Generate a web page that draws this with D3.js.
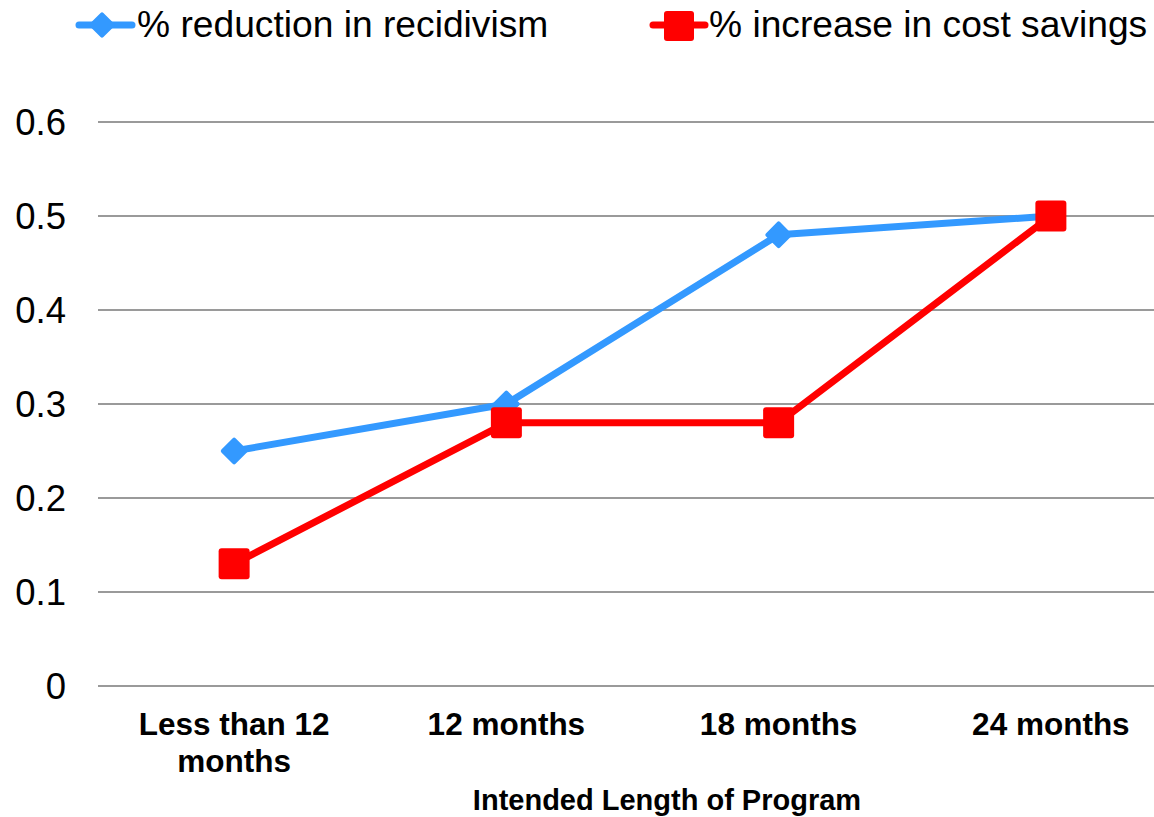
<!DOCTYPE html>
<html><head><meta charset="utf-8">
<script src="https://cdn.jsdelivr.net/npm/d3@7"></script>
<style>html,body{margin:0;padding:0;background:#fff;}svg{display:block;font-family:"Liberation Sans",Arial,sans-serif;}</style>
</head><body>
<svg id="c" width="1154" height="817"></svg>
<script>
const categories = [["Less than 12","months"],["12 months"],["18 months"],["24 months"]];
const recidivism = [0.25, 0.30, 0.48, 0.50];
const costSavings = [0.13, 0.28, 0.28, 0.50];
const yTicks = [0, 0.1, 0.2, 0.3, 0.4, 0.5, 0.6];
const seriesNames = ["% reduction in recidivism", "% increase in cost savings"];

const svg = d3.select("#c");
const x = d3.scaleBand().domain(d3.range(categories.length)).range([98, 1187]);
const y = d3.scaleLinear().domain([0, 0.6]).range([686, 122]);

// gridlines
svg.append("g").selectAll("line").data(yTicks).join("line")
  .attr("x1", 98).attr("x2", 1154)
  .attr("y1", d => y(d)).attr("y2", d => y(d))
  .attr("stroke", "#9a9a9a").attr("stroke-width", 2);

// y labels
const yAxis = d3.axisLeft(y).tickValues(yTicks).tickSize(0).tickPadding(0).tickFormat(d => d3.format("")(+d.toFixed(1)));
const ya = svg.append("g").attr("transform", "translate(66,0)").call(yAxis);
ya.select(".domain").remove();
ya.selectAll("text").attr("font-size", 36.5).attr("fill", "#000").attr("font-family", "Liberation Sans, Arial, sans-serif").attr("dy", "0.35em");

// x labels
const xl = svg.append("g");
categories.forEach((lines, i) => {
  const t = xl.append("text").attr("text-anchor", "middle").attr("font-weight", "bold").attr("font-size", 31.5).attr("fill", "#000");
  lines.forEach((ln, j) => t.append("tspan").attr("x", x(i) + x.bandwidth()/2).attr("y", 735 + j*37).text(ln));
});
svg.append("text").attr("x", 667).attr("y", 810).attr("text-anchor", "middle").attr("font-weight", "bold").attr("font-size", 29).text("Intended Length of Program");

const cx = i => x(i) + x.bandwidth()/2;
const line = d3.line().x((d, i) => cx(i)).y(d => y(d));
const blue = "#3399FF", red = "#FF0000";

svg.append("path").datum(recidivism).attr("d", line).attr("fill", "none").attr("stroke", blue).attr("stroke-width", 7).attr("stroke-linejoin", "round");
svg.append("path").datum(costSavings).attr("d", line).attr("fill", "none").attr("stroke", red).attr("stroke-width", 7).attr("stroke-linejoin", "round");

function diamond(g, cxp, cyp, s) {
  g.append("rect").attr("x", cxp - s/2).attr("y", cyp - s/2).attr("width", s).attr("height", s).attr("rx", 2)
    .attr("transform", `rotate(45,${cxp},${cyp})`).attr("fill", blue);
}
function square(g, cxp, cyp, s) {
  g.append("rect").attr("x", cxp - s/2).attr("y", cyp - s/2).attr("width", s).attr("height", s).attr("rx", 3).attr("fill", red);
}
const mk = svg.append("g");
recidivism.forEach((d, i) => diamond(mk, cx(i), y(d), 20));
costSavings.forEach((d, i) => square(mk, cx(i), y(d), 31));

// legend
const lg = svg.append("g");
lg.append("line").attr("x1", 79).attr("x2", 132).attr("y1", 25).attr("y2", 25).attr("stroke", blue).attr("stroke-width", 7).attr("stroke-linecap", "round");
diamond(lg, 102, 25, 19);
lg.append("text").attr("x", 137).attr("y", 37).attr("font-size", 37.2).text(seriesNames[0]);
lg.append("line").attr("x1", 653).attr("x2", 705).attr("y1", 25).attr("y2", 25).attr("stroke", red).attr("stroke-width", 7).attr("stroke-linecap", "round");
square(lg, 679, 26, 30);
lg.append("text").attr("x", 709).attr("y", 37).attr("font-size", 37.2).text(seriesNames[1]);
</script>
</body></html>
